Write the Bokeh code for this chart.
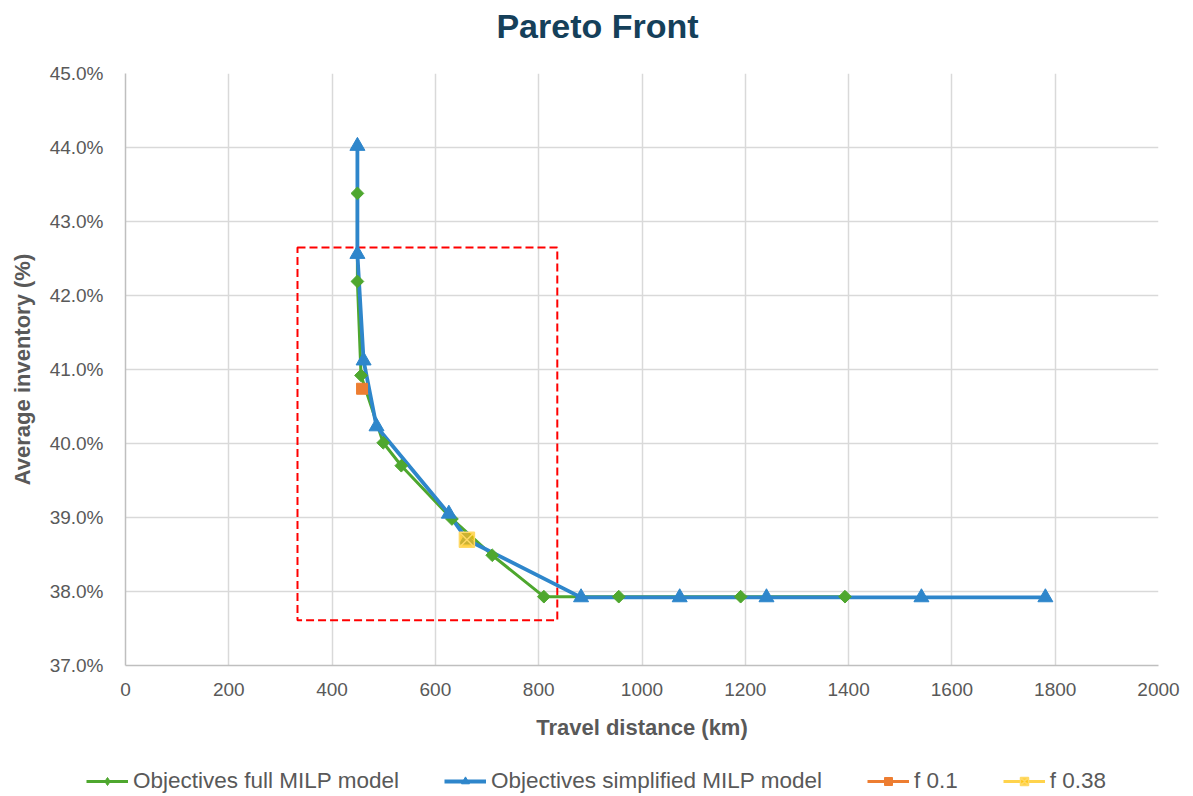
import math
from bokeh.plotting import figure
from bokeh.layouts import column
from bokeh.models import (Legend, LegendItem, PrintfTickFormatter, FixedTicker, Range1d, Label)
from bokeh.embed import file_html
from bokeh.resources import INLINE

# ---- data ----
full_x = [449, 449, 456, 499, 534, 632, 710, 810, 955, 1191, 1393]
full_y = [43.38, 42.19, 40.92, 40.01, 39.70, 38.98, 38.49, 37.93, 37.93, 37.93, 37.93]

simp_x = [449, 449, 461, 486, 626, 661, 882, 1073, 1241, 1541, 1781]
simp_y = [44.02, 42.56, 41.12, 40.23, 39.05, 38.70, 37.92, 37.92, 37.92, 37.92, 37.92]

f01_x = [458]
f01_y = [40.74]
f038_x = [661]
f038_y = [38.70]

# highlight box (data units)
box_left, box_right, box_bottom, box_top = 333, 836, 37.61, 42.65

x_ticks = list(range(0, 2001, 200))
y_ticks = [37, 38, 39, 40, 41, 42, 43, 44, 45]

series_labels = ["Objectives full MILP model", "Objectives simplified MILP model", "f 0.1", "f 0.38"]
chart_title = "Pareto Front"

FONT = "Liberation Sans"
GREY = "#595959"
GREEN = "#4EA72E"
BLUE = "#2E86CB"
ORANGE = "#ED7D31"
YELLOW = "#FFC000"


def strip(h):
    f = figure(width=1193, height=h, output_backend="svg", toolbar_location=None,
               x_range=Range1d(0, 2000), y_range=Range1d(0, 1),
               min_border_left=0, min_border_right=0, min_border_top=0, min_border_bottom=0)
    f.frame_align = False
    f.axis.visible = False
    f.grid.visible = False
    f.outline_line_color = None
    f.border_fill_color = "white"
    f.background_fill_color = "white"
    return f


# ---- title strip ----
t = strip(50)
t.add_layout(Label(x=597, y=25, x_units="screen", y_units="screen", text=chart_title,
                   text_align="center", text_baseline="middle", text_font=FONT,
                   text_font_size="34px", text_font_style="bold", text_color="#15405A"))

# ---- main chart ----
p = figure(width=1193, height=696, output_backend="svg", toolbar_location=None,
           x_range=Range1d(0, 2000), y_range=Range1d(37, 45),
           min_border_left=125, min_border_right=35, min_border_top=23, min_border_bottom=81)
p.outline_line_color = None
p.background_fill_color = "white"
p.border_fill_color = "white"

for g in (p.xgrid, p.ygrid):
    g.grid_line_color = "#D9D9D9"
    g.grid_line_width = 1.5
p.xaxis.ticker = FixedTicker(ticks=x_ticks)
p.yaxis.ticker = FixedTicker(ticks=y_ticks)
p.yaxis.formatter = PrintfTickFormatter(format="%.1f%%")

for ax in (p.xaxis, p.yaxis):
    ax.axis_line_color = "#BFBFBF"
    ax.axis_line_width = 1.5
    ax.major_tick_line_color = None
    ax.minor_tick_line_color = None
    ax.major_tick_out = 0
    ax.major_tick_in = 0
    ax.major_label_text_font = FONT
    ax.major_label_text_font_size = "19px"
    ax.major_label_text_color = GREY
    ax.axis_label_text_font = FONT
    ax.axis_label_text_font_size = "22px"
    ax.axis_label_text_font_style = "bold"
    ax.axis_label_text_color = GREY

p.xaxis.axis_label = "Travel distance (km)"
p.yaxis.axis_label = "Average inventory (%)"
p.xaxis.major_label_standoff = 17
p.xaxis.axis_label_standoff = 16
p.yaxis.major_label_standoff = 22
p.yaxis.axis_label_standoff = 12

# highlight box
p.quad(left=[box_left], right=[box_right], bottom=[box_bottom], top=[box_top],
       fill_color=None, line_color="#FF0000", line_width=2, line_dash="8 4")


def draw(fig, diamond):
    lf = fig.line(full_x, full_y, line_color=GREEN, line_width=3)
    ls = fig.line(simp_x, simp_y, line_color=BLUE, line_width=3.8)
    l1 = fig.line(f01_x, f01_y, line_color=ORANGE, line_width=3)
    l2 = fig.line(f038_x, f038_y, line_color=YELLOW, line_width=3, line_alpha=0.7)
    mf = fig.scatter(full_x, full_y, fill_color=GREEN, line_color=GREEN, **diamond)
    ms = fig.scatter(simp_x, simp_y, marker="triangle", size=15, fill_color=BLUE, line_color=BLUE)
    m1 = fig.scatter(f01_x, f01_y, marker="square", size=11, fill_color=ORANGE, line_color=ORANGE)
    m2 = fig.scatter(f038_x, f038_y, marker="square_x", size=15, fill_color=YELLOW, fill_alpha=0.75,
                     line_color="#FFD966", line_width=1.5)
    return [(lf, mf), (ls, ms), (l1, m1), (l2, m2)]


draw(p, dict(marker="square", angle=math.pi / 4, size=9))

# ---- legend strip: series lie outside its y range, so only the legend glyphs show ----
q = strip(50)
pairs = draw(q, dict(marker="diamond", size=15))
legend = Legend(items=[LegendItem(label=lab, renderers=list(rs)) for lab, rs in zip(series_labels, pairs)],
                orientation="horizontal", location=(86, 2))
legend.label_text_font = FONT
legend.label_text_font_size = "22.5px"
legend.label_text_color = GREY
legend.border_line_color = None
legend.background_fill_alpha = 0
legend.spacing = 45
legend.glyph_width = 42
legend.label_standoff = 5
legend.padding = 5
legend.margin = 0
q.add_layout(legend, "center")

open("out.html", "w").write(file_html(column(t, p, q, spacing=0), INLINE))
